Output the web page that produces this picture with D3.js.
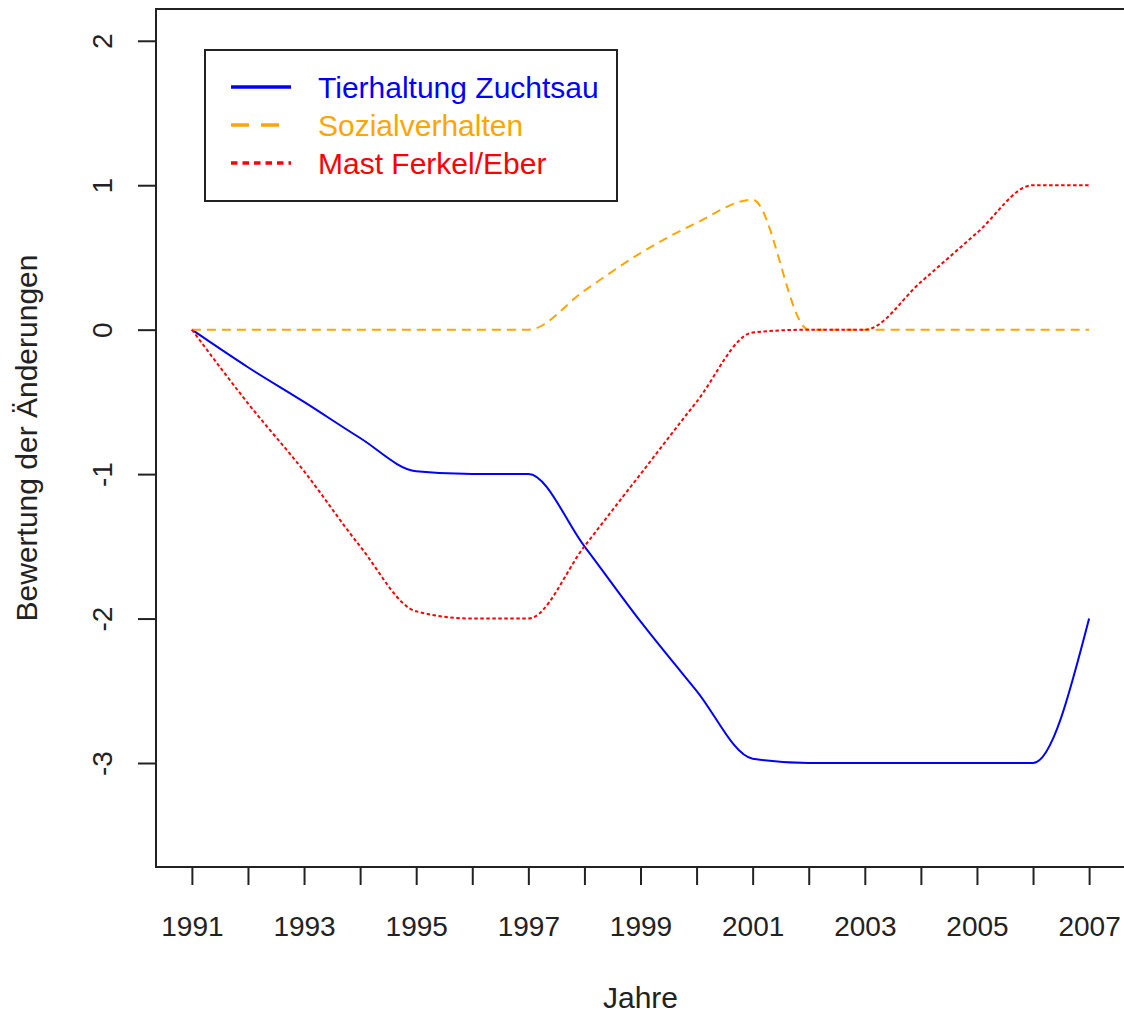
<!DOCTYPE html>
<html>
<head>
<meta charset="utf-8">
<script src="https://cdn.jsdelivr.net/npm/d3@7"></script>
<style>
  body { margin: 0; background: #fff; }
  svg { display: block; font-family: "Liberation Sans", Arial, sans-serif; }
</style>
</head>
<body>
<div id="chart"></div>
<script>
const years = [1991, 1992, 1993, 1994, 1995, 1996, 1997, 1998, 1999, 2000, 2001, 2002, 2003, 2004, 2005, 2006, 2007];
const tierhaltung = [0, -0.26, -0.5, -0.75, -0.98, -1, -1, -1.5, -2.02, -2.5, -2.97, -3, -3, -3, -3, -3, -2];
const sozial = [0, 0, 0, 0, 0, 0, 0, 0.27, 0.53, 0.74, 0.9, 0, 0, 0, 0, 0, 0];
const mast = [0, -0.51, -0.98, -1.5, -1.95, -2, -2, -1.5, -1, -0.5, -0.02, 0, 0, 0.33, 0.67, 1, 1];
const yTicks = [-3, -2, -1, 0, 1, 2];
const legendLabels = ['Tierhaltung Zuchtsau', 'Sozialverhalten', 'Mast Ferkel/Eber'];

const width = 1124;
const height = 1015;
const margin = {top: 9, bottom: 148, left: 156, right: -1};

const svg = d3.select('#chart')
  .append('svg')
  .attr('width', width)
  .attr('height', height);

const x = d3.scaleLinear()
  .domain([1990.36, 2007.64])
  .range([margin.left, width - margin.right]);

const y = d3.scaleLinear()
  .domain([-3.72, 2.22])
  .range([height - margin.bottom, margin.top]);

const series = [
  { name: legendLabels[0], values: tierhaltung, color: '#0000ff', dash: null, legendDash: null },
  { name: legendLabels[1], values: sozial, color: '#ffa500', dash: '9,6', legendDash: '18,12' },
  { name: legendLabels[2], values: mast, color: '#ff0000', dash: '3.5,2.5', legendDash: '6.5,5' },
];

const line = d3.line()
  .x((d, i) => x(years[i]))
  .y(d => y(d))
  .curve(d3.curveMonotoneX);

// lines
svg.append('g')
  .selectAll('path')
  .data(series)
  .join('path')
    .attr('d', d => line(d.values))
    .attr('fill', 'none')
    .attr('stroke', d => d.color)
    .attr('stroke-width', 2)
    .attr('stroke-dasharray', d => d.dash);

// box
svg.append('rect')
  .attr('x', margin.left)
  .attr('y', margin.top)
  .attr('width', width - margin.right - margin.left)
  .attr('height', height - margin.bottom - margin.top)
  .attr('fill', 'none')
  .attr('stroke', '#222')
  .attr('stroke-width', 2);

function xAxis(g) {
  g.call(d3.axisBottom(x)
      .tickValues(years)
      .tickSize(18)
      .tickPadding(31)
      .tickFormat(d => (d - 1991) % 2 === 0 ? d : ''))
  g.attr('transform', `translate(0, ${height - margin.bottom})`)
  g.attr('font-size', '28px')
  g.attr('font-family', null)
  g.select('.domain').remove()
  g.selectAll('line').attr('stroke', '#222').attr('stroke-width', 2)
  g.selectAll('text').attr('fill', '#222')
}

function yAxis(g) {
  g.call(d3.axisLeft(y).tickValues(yTicks).tickSize(18).tickFormat(d => String(d)))
    .attr('transform', `translate(${margin.left}, 0)`)
    .attr('font-size', '28px')
    .attr('font-family', null)
  g.select('.domain').remove()
  g.selectAll('line').attr('stroke', '#222').attr('stroke-width', 2)
  g.selectAll('text')
    .attr('fill', '#222')
    .attr('x', null)
    .attr('dy', null)
    .attr('text-anchor', 'middle')
    .attr('transform', 'translate(-44, 0) rotate(-90)')
}

svg.append('g').call(xAxis)
svg.append('g').call(yAxis)

// axis titles
svg.append('text')
  .attr('x', (margin.left + width - margin.right) / 2)
  .attr('y', 1008)
  .attr('text-anchor', 'middle')
  .attr('font-size', '30px')
  .attr('fill', '#222')
  .text('Jahre');

svg.append('text')
  .attr('transform', `translate(37, ${(margin.top + height - margin.bottom) / 2}) rotate(-90)`)
  .attr('text-anchor', 'middle')
  .attr('font-size', '30px')
  .attr('fill', '#222')
  .text('Bewertung der Änderungen');

// legend
const legend = svg.append('g').attr('transform', 'translate(205, 50)');

legend.append('rect')
  .attr('width', 412)
  .attr('height', 151)
  .attr('fill', '#fff')
  .attr('stroke', '#222')
  .attr('stroke-width', 2);

const rows = legend.selectAll('g.row')
  .data(series)
  .join('g')
    .attr('class', 'row')
    .attr('transform', (d, i) => `translate(0, ${37 + i * 38})`);

rows.append('line')
  .attr('x1', 26)
  .attr('x2', 86)
  .attr('stroke', d => d.color)
  .attr('stroke-width', 3.5)
  .attr('stroke-dasharray', d => d.legendDash);

rows.append('text')
  .attr('x', 113)
  .attr('dy', '0.35em')
  .attr('font-size', '30px')
  .attr('fill', d => d.color)
  .text(d => d.name);
</script>
</body>
</html>
